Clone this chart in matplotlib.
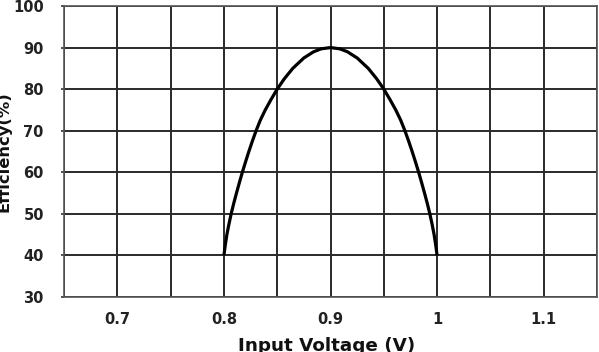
import matplotlib
matplotlib.use("Agg")
import matplotlib.pyplot as plt

# Efficiency curve (rising branch, then falling branch)
voltage = [0.8000, 0.8013, 0.8028, 0.8047, 0.8068, 0.8092, 0.8118, 0.8145, 0.8173,
           0.8203, 0.8234, 0.8267, 0.8302, 0.8341, 0.8388, 0.8442, 0.8500, 0.8567,
           0.8646, 0.8750, 0.8842, 0.8913, 0.9000,
           0.9087, 0.9158, 0.9250, 0.9354, 0.9433, 0.9500, 0.9558, 0.9612, 0.9659,
           0.9698, 0.9733, 0.9766, 0.9797, 0.9827, 0.9855, 0.9882, 0.9908, 0.9932,
           0.9953, 0.9972, 0.9987, 1.0000]
efficiency = [40.0, 42.5, 45.0, 47.5, 50.0, 52.5, 55.0, 57.5, 60.0,
              62.5, 65.0, 67.5, 70.0, 72.5, 75.0, 77.5, 80.0, 82.5,
              85.0, 87.5, 89.0, 89.7, 90.0,
              89.7, 89.0, 87.5, 85.0, 82.5, 80.0, 77.5, 75.0, 72.5,
              70.0, 67.5, 65.0, 62.5, 60.0, 57.5, 55.0, 52.5, 50.0,
              47.5, 45.0, 42.5, 40.0]

xticks = [0.7, 0.8, 0.9, 1.0, 1.1]
xtick_labels = ["0.7", "0.8", "0.9", "1", "1.1"]
xgrid = [0.65, 0.7, 0.75, 0.8, 0.85, 0.9, 0.95, 1.0, 1.05, 1.1, 1.15]
yticks = [30, 40, 50, 60, 70, 80, 90, 100]

plt.rcParams['font.family'] = ['DejaVu Sans']

fig = plt.figure(figsize=(5.99, 3.52), dpi=100)
ax = fig.add_axes([64 / 599, 55 / 352, 533 / 599, 291 / 352])

ax.set_xlim(0.65, 1.15)
ax.set_ylim(30, 100)

# grid
for gx in xgrid:
    ax.axvline(gx, color="#2a2a2a", lw=1.4, zorder=1)
for gy in yticks:
    ax.axhline(gy, color="#2a2a2a", lw=1.4, zorder=1)

ax.plot(voltage, efficiency, color="black", lw=2.3, zorder=3,
        solid_joinstyle="round", solid_capstyle="butt")

ax.set_xticks(xticks)
ax.set_xticklabels(xtick_labels, fontsize=10.5, fontweight="bold", color="#222222")
ax.set_yticks(yticks)
ax.set_yticklabels([str(v) for v in yticks], fontsize=10.5, fontweight="bold", color="#222222")
ax.tick_params(axis="x", length=0, pad=10.5)
ax.tick_params(axis="y", length=2, width=1.2, pad=12.5, color="#333333")

for s in ax.spines.values():
    s.set_color("#555555")
    s.set_linewidth(1.2)

ax.set_xlabel("Input Voltage (V)", fontsize=13.2, fontweight="bold", color="#111111")
ax.xaxis.set_label_coords((327 - 64) / 533, -40 / 291)
ax.set_ylabel("Efficiency(%)", fontsize=11.8, fontweight="bold", color="#111111")
ax.yaxis.set_label_coords((12 - 64) / 533, 0.5)

fig.savefig("out.png", dpi=100)
